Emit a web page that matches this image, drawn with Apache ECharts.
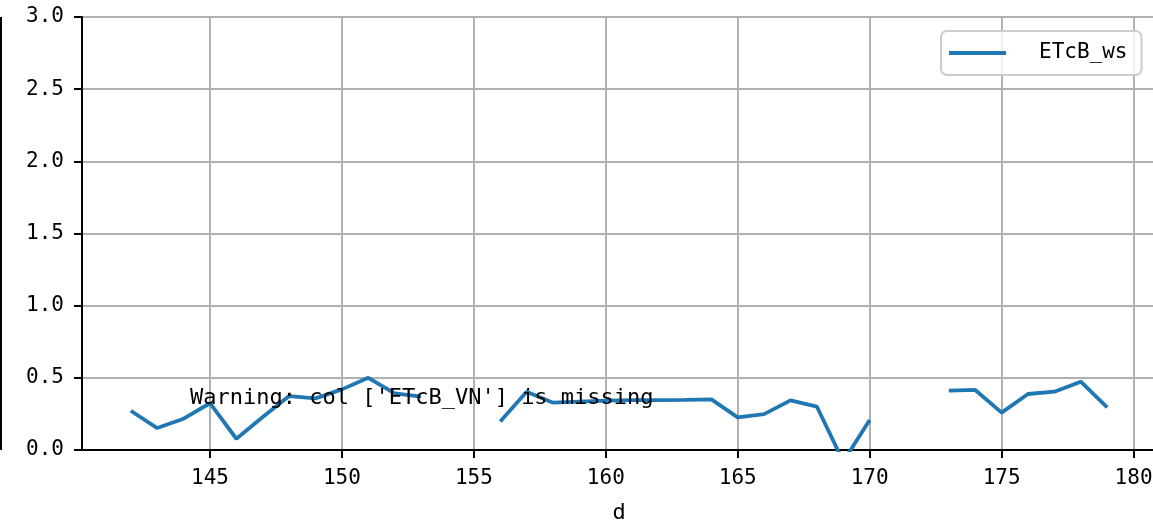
<!DOCTYPE html>
<html>
<head>
<meta charset="utf-8">
<script src="https://cdn.jsdelivr.net/npm/echarts@6/dist/echarts.min.js"></script>
<style>
html,body{margin:0;padding:0;background:#fff;}
#chart{width:1153px;height:520px;}
</style>
</head>
<body>
<div id="chart"></div>
<script>
// ---- data ----
const days = [142,143,144,145,146,147,148,149,150,151,152,153,154,155,156,157,158,159,160,
              161,162,163,164,165,166,167,168,169,170,171,172,173,174,175,176,177,178,179];
const ETcB_ws = [0.272,0.152,0.217,0.324,0.078,0.228,0.374,0.358,0.420,0.500,0.393,0.369,null,null,0.198,0.404,0.328,0.335,0.342,
                 0.345,0.346,0.347,0.351,0.226,0.249,0.344,0.300,-0.080,0.208,null,null,0.411,0.416,0.259,0.388,0.404,0.473,0.296];
const xTicks = [145,150,155,160,165,170,175,180];
const seriesName = 'ETcB_ws';
const xName = 'd';
const warningText = "Warning: col ['ETcB_VN'] is missing";

const FONT = '"DejaVu Sans Mono", "Liberation Mono", monospace';
const chart = echarts.init(document.getElementById('chart'), null, {renderer:'canvas'});
const seriesData = days.map((d,i)=>[d, ETcB_ws[i]]);

chart.setOption({
  animation:false,
  backgroundColor:'#ffffff',
  grid:{left:82, top:17, width:1074, height:433, containLabel:false, outerBoundsMode:'none',
        show:true, borderColor:'#000', borderWidth:2, backgroundColor:'transparent'},
  legend:{
    data:[seriesName],
    left:941, top:31,
    orient:'vertical',
    padding:[10,14,10,8],
    backgroundColor:'rgba(255,255,255,0.8)',
    borderColor:'#cccccc', borderWidth:2, borderRadius:6,
    icon:'rect', itemWidth:57, itemHeight:4,
    textStyle:{fontFamily:FONT, fontSize:21, color:'#000', padding:[0,0,0,28], lineHeight:24}
  },
  xAxis:{
    type:'value', min:140.15, max:180.85,
    name:xName, nameLocation:'middle', nameGap:52,
    nameTextStyle:{fontFamily:FONT, fontSize:22, color:'#000'},
    axisLine:{show:true, onZero:false, lineStyle:{color:'#000', width:2}},
    axisTick:{show:true, inside:false, length:8, lineStyle:{color:'#000', width:2}, customValues:xTicks},
    axisLabel:{fontFamily:FONT, fontSize:21, color:'#000', margin:18, customValues:xTicks},
    splitLine:{show:true, lineStyle:{color:'#b0b0b0', width:2}}
  },
  yAxis:{
    type:'value', min:0, max:3, interval:0.5,
    axisLine:{show:true, lineStyle:{color:'#000', width:2}},
    axisTick:{show:true, length:8, lineStyle:{color:'#000', width:2}},
    axisLabel:{fontFamily:FONT, fontSize:21, color:'#000', margin:18, formatter:v=>v.toFixed(1)},
    splitLine:{show:true, lineStyle:{color:'#b0b0b0', width:2}}
  },
  series:[{
    name:seriesName, type:'line', data:seriesData,
    showSymbol:false, connectNulls:false, clip:true,
    lineStyle:{color:'#1f77b4', width:3.8},
    itemStyle:{color:'#1f77b4'}
  }],
  graphic:[
    {type:'line', shape:{x1:1, y1:17, x2:1, y2:450}, style:{stroke:'#000', lineWidth:2}, z:100},
    {type:'text', x:190, y:398, z:100, style:{text:warningText, font:'22px '+FONT, fill:'#000', verticalAlign:'middle', align:'left'}}
  ]
});
</script>
</body>
</html>
